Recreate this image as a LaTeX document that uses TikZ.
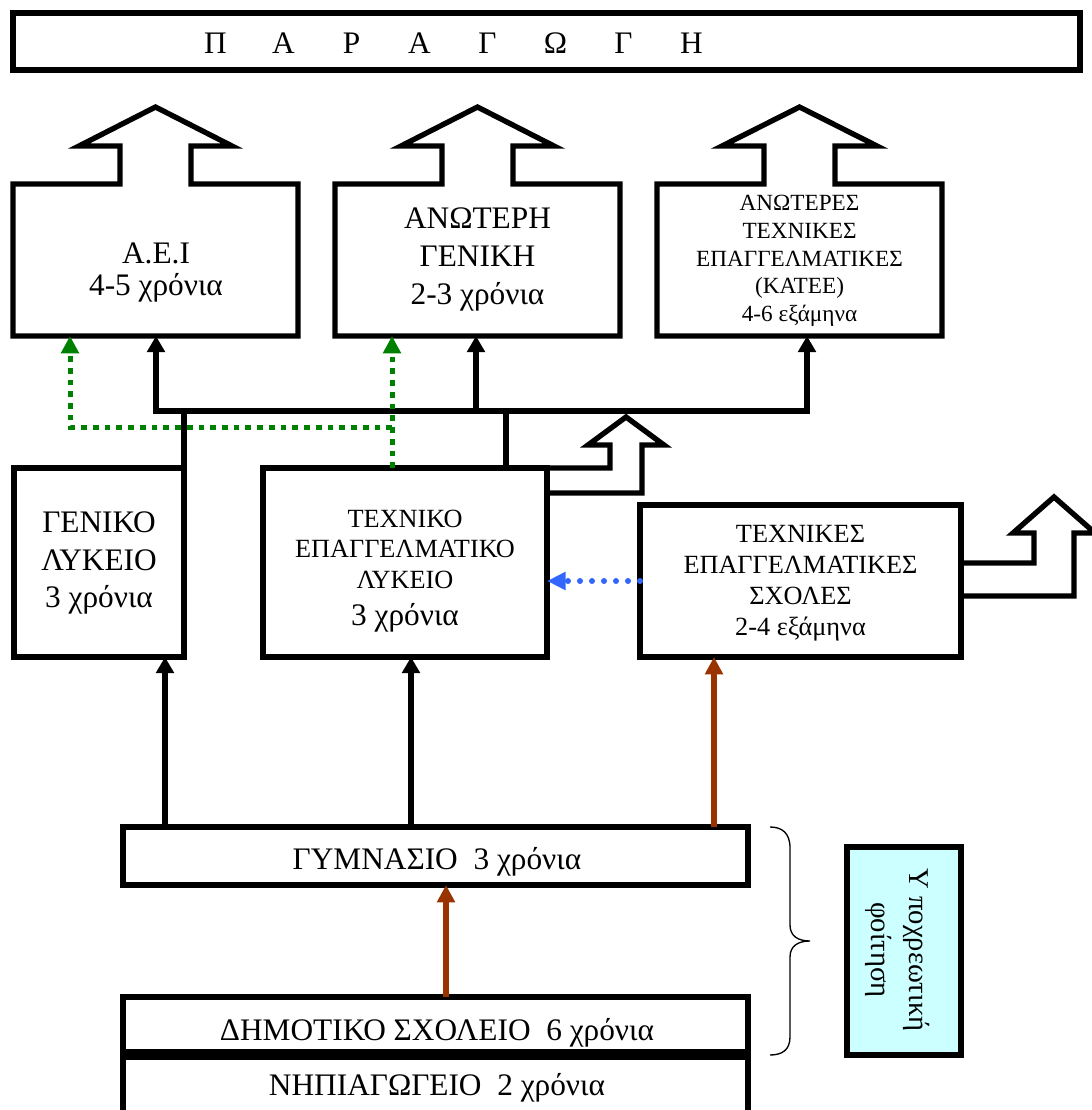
\documentclass[tikz,border=0pt]{standalone}
\usepackage{fontspec}
\setmainfont{Liberation Serif}
\usetikzlibrary{arrows.meta,fit}
\definecolor{grn}{RGB}{0,128,0}
\definecolor{blu}{RGB}{51,102,255}
\definecolor{brn}{RGB}{153,51,0}
\definecolor{cyn}{RGB}{204,255,255}
\begin{document}
\begin{tikzpicture}[x=0.75pt,y=-0.75pt,
  lw/.style={line width=4pt,line join=miter},
  frame/.style={draw,line width=4pt,inner sep=0pt,outer sep=0pt},
  hold/.style={inner sep=0pt,outer sep=0pt},
  arr/.style={line width=4pt,-{Triangle[width=13pt,length=12pt]}},
  arrs/.style={line width=4pt,{Triangle[width=13pt,length=12pt]}-{Triangle[width=13pt,length=12pt]}},
  gdot/.style={draw=grn,line width=3.75pt,dash pattern=on 4.3pt off 4.5pt,-{Triangle[width=13pt,length=13pt]}},
  bdot/.style={draw=blu,line width=4.5pt,line cap=round,dash pattern=on 0pt off 9pt,-{Triangle[width=13pt,length=14pt]}},
  brarr/.style={draw=brn,line width=4.5pt,-{Triangle[width=13pt,length=13pt]}},
  txt/.style={align=center,inner sep=0pt},
]
\useasboundingbox (0,0) rectangle (1092,1110);

% top box
\node[frame,fit={(13,13)(1080,70)}] (prod) {};
\node[txt,font=\fontsize{23.5}{23.5}\selectfont] (prodT) at (453.5,43)
  {\makebox[51pt]{Π}\makebox[51pt]{Α}\makebox[51pt]{Ρ}\makebox[51pt]{Α}\makebox[51pt]{Γ}\makebox[51pt]{Ω}\makebox[51pt]{Γ}\makebox[51pt]{Η}};

% upper boxes with block arrows
\node[hold,fit={(13,184)(298,336)}] (aei) {};
\draw[lw] (13,184) -- (120,184) -- (120,146) -- (79,146) -- (155.5,107) -- (232,146) -- (191,146) -- (191,184) -- (298,184) -- (298,336) -- (13,336) -- cycle;
\node[txt,font=\fontsize{23.5}{23.3}\selectfont] (aeiT) at (156,272.5) {Α.Ε.Ι\\4-5 χρόνια};

\node[hold,fit={(335,184)(620,336)}] (ang) {};
\draw[lw] (335,184) -- (442,184) -- (442,146) -- (401,146) -- (477.5,107) -- (554,146) -- (513,146) -- (513,184) -- (620,184) -- (620,336) -- (335,336) -- cycle;
\node[txt,font=\fontsize{23.5}{28.5}\selectfont] (angT) at (477.5,259) {ΑΝΩΤΕΡΗ\\ΓΕΝΙΚΗ\\2-3 χρόνια};

\node[hold,fit={(657,184)(942,336)}] (kat) {};
\draw[lw] (657,184) -- (764,184) -- (764,146) -- (722,146) -- (799.5,107) -- (877,146) -- (835,146) -- (835,184) -- (942,184) -- (942,336) -- (657,336) -- cycle;
\node[txt,font=\fontsize{17.4}{20.8}\selectfont] (katT) at (799.5,261) {ΑΝΩΤΕΡΕΣ\\ΤΕΧΝΙΚΕΣ\\ΕΠΑΓΓΕΛΜΑΤΙΚΕΣ\\(ΚΑΤΕΕ)\\4-6 εξάμηνα};

% middle boxes
\node[frame,fit={(14,468)(184,657)}] (gen) {};
\node[txt,font=\fontsize{23.5}{28}\selectfont] (genT) at (99,563) {ΓΕΝΙΚΟ\\ΛΥΚΕΙΟ\\3 χρόνια};

\node[frame,fit={(263,468)(547,657)}] (tex) {};
\node[txt,font=\fontsize{19.7}{22.9}\selectfont] (texT) at (405,571) {ΤΕΧΝΙΚΟ\\ΕΠΑΓΓΕΛΜΑΤΙΚΟ\\ΛΥΚΕΙΟ\\[4.9pt]{\fontsize{23.5}{23.5}\selectfont 3 χρόνια}};

\node[frame,fit={(640,505)(961,657)}] (sch) {};
\node[txt,font=\fontsize{19.7}{23.25}\selectfont] (schT) at (800.5,583.5) {ΤΕΧΝΙΚΕΣ\\ΕΠΑΓΓΕΛΜΑΤΙΚΕΣ\\ΣΧΟΛΕΣ\\2-4 εξάμηνα};

% bent block arrows
\draw[lw] (tex.north east) -- (610,468) -- (610,445) -- (588,445) -- (626,417) -- (664,445) -- (642,445) -- (642,493) -- (547,493);
\draw[lw] (961,563) -- (1034,563) -- (1034,533) -- (1013,533) -- (1054,497) -- (1095,533) -- (1074,533) -- (1074,596) -- (961,596);

% lower boxes
\node[frame,fit={(123,827)(748,885)}] (gym) {};
\node[txt,font=\fontsize{23.5}{23.5}\selectfont] (gymT) at (437,861.5) {ΓΥΜΝΑΣΙΟ\ \ 3 χρόνια};
\node[frame,fit={(123,997)(748,1052)}] (dem) {};
\node[txt,font=\fontsize{23.5}{23.5}\selectfont] (demT) at (437,1032.5) {ΔΗΜΟΤΙΚΟ ΣΧΟΛΕΙΟ\ \ 6 χρόνια};
\node[frame,fit={(123,1057)(748,1125)}] (nip) {};
\node[txt,font=\fontsize{23.5}{23.5}\selectfont] (nipT) at (437,1087.5) {ΝΗΠΙΑΓΩΓΕΙΟ\ \ 2 χρόνια};

% compulsory box and brace
\node[frame,fill=cyn,fit={(847,847)(961,1055)}] (obl) {};
\node[txt,rotate=-90,font=\fontsize{21.5}{28.5}\selectfont] (oblT) at (898,950) {Υ ποχρεωτική\\φοίτηση};
\draw[line width=1pt] (770,827) .. controls (782,827) and (790,833) .. (790,848) -- (790,925) .. controls (790,936) and (798,941) .. (810,941) .. controls (798,941) and (790,946) .. (790,957) -- (790,1037) .. controls (790,1050) and (782,1055) .. (770,1055);

% bus connectors
\coordinate (b1) at (156,411);
\coordinate (b2) at (476,411);
\coordinate (b3) at (807,411);
\draw[arrs] (aei.south -| b1) -- (b1) -- (b3) -- (kat.south -| b3);
\draw[arr] (b2) -- (ang.south -| b2);
\draw[lw] (gen.north east) -- (gen.north east |- b1);
\coordinate (t1) at (506,468);
\draw[lw] (t1) -- (t1 |- b1);

% green dotted
\coordinate (g2) at (392,468);
\coordinate (gj) at (392,427);
\coordinate (g1) at (70,427);
\draw[gdot] (g2) -- (ang.south -| g2);
\draw[gdot] (gj) -- (g1) -- (aei.south -| g1);

% blue dotted
\draw[bdot] (sch.west) -- (tex.east |- sch.west);

% lower arrows
\coordinate (l1) at (165,827);
\coordinate (l2) at (411,827);
\draw[arr] (l1) -- (gen.south -| l1);
\draw[arr] (l2) -- (tex.south -| l2);
\coordinate (r1) at (714,827);
\draw[brarr] (r1) -- (sch.south -| r1);
\coordinate (r2) at (446,997);
\draw[brarr] (r2) -- (gym.south -| r2);
\end{tikzpicture}
\end{document}
